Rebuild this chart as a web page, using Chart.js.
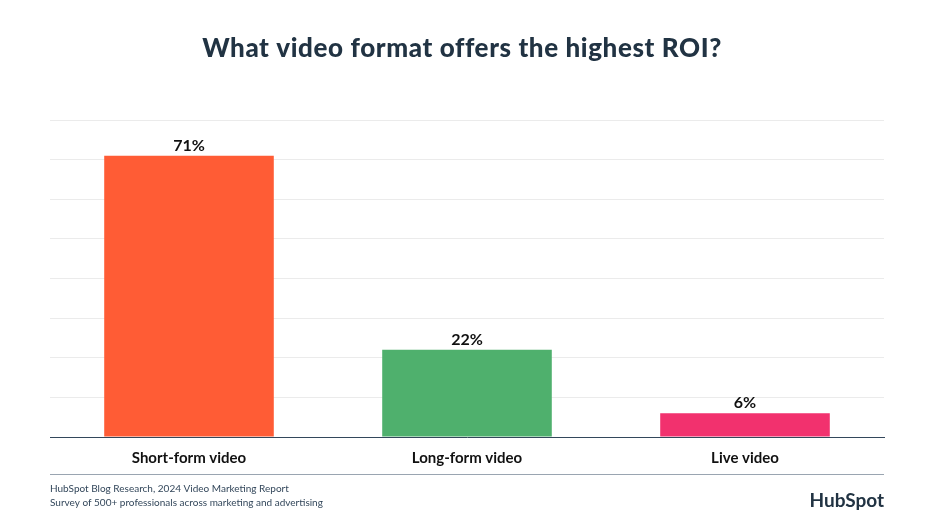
<!DOCTYPE html>
<html>
<head>
<meta charset="utf-8">
<script src="https://cdn.jsdelivr.net/npm/chart.js@4"></script>
<style>
  html, body { margin: 0; padding: 0; background: #fff; }
  #wrap { width: 936px; height: 528px; }
</style>
</head>
<body>
<div id="wrap"><canvas id="roiChart" width="936" height="528"></canvas></div>
<script>
const categories = ["Short-form video", "Long-form video", "Live video"];
const roiShare = [71, 22, 6];
const barColors = ["#FF5C35", "#4FB06D", "#F2316E"];
const yTicks = [0, 10, 20, 30, 40, 50, 60, 70, 80];

const navy = "#213343";
const font = "Lato, 'Open Sans', sans-serif";

// title, value labels and footer are drawn on the canvas
const decorations = {
  id: "decorations",
  afterDatasetsDraw(chart) {
    const ctx = chart.ctx;
    const meta = chart.getDatasetMeta(0);
    ctx.save();
    ctx.fillStyle = "#111";
    ctx.font = `bold 16px ${font}`;
    ctx.textAlign = "center";
    ctx.textBaseline = "bottom";
    meta.data.forEach((bar, i) => {
      ctx.fillText(`${roiShare[i]}%`, bar.x, bar.y - 2);
    });
    ctx.restore();
  },
  afterDraw(chart) {
    const ctx = chart.ctx;
    const area = chart.chartArea;
    ctx.save();
    ctx.fillStyle = navy;
    ctx.font = `900 26px ${font}`;
    ctx.letterSpacing = "0.6px";
    ctx.textAlign = "center";
    ctx.textBaseline = "middle";
    ctx.fillText("What video format offers the highest ROI?", 462, 49);
    ctx.letterSpacing = "0px";

    ctx.strokeStyle = "#9aa5b1";
    ctx.lineWidth = 1;
    ctx.beginPath();
    ctx.moveTo(area.left, 474.5);
    ctx.lineTo(area.right, 474.5);
    ctx.stroke();

    ctx.textAlign = "left";
    ctx.font = `10px ${font}`;
    ctx.fillStyle = "#33475b";
    ctx.fillText("HubSpot Blog Research, 2024 Video Marketing Report", area.left, 489);
    ctx.fillText("Survey of 500+ professionals across marketing and advertising", area.left, 503);

    ctx.textAlign = "right";
    ctx.font = `bold 19px ${font}`;
    ctx.fillStyle = navy;
    ctx.fillText("HubSpot", area.right, 501);
    ctx.restore();
  }
};

new Chart(document.getElementById("roiChart"), {
  type: "bar",
  data: {
    labels: categories,
    datasets: [{ data: roiShare, backgroundColor: barColors, borderWidth: 0,
                 categoryPercentage: 1, barPercentage: 0.61 }]
  },
  options: {
    responsive: false,
    animation: false,
    layout: { padding: { left: 50, right: 52, top: 120, bottom: 61 } },
    plugins: { legend: { display: false }, tooltip: { enabled: false } },
    scales: {
      x: {
        grid: { display: false },
        border: { color: "#33475b", width: 1 },
        ticks: { color: "#111", font: { family: font, size: 15, weight: "bold" }, padding: 4 },
        afterFit(scale) { scale.height = 30; }
      },
      y: {
        min: 0,
        max: yTicks[yTicks.length - 1],
        afterBuildTicks(scale) { scale.ticks = yTicks.map(v => ({ value: v })); },
        ticks: { display: false },
        grid: { color: "#ebebeb", drawTicks: false },
        border: { display: false },
        afterFit(scale) { scale.width = 0; }
      }
    }
  },
  plugins: [decorations]
});
</script>
</body>
</html>
